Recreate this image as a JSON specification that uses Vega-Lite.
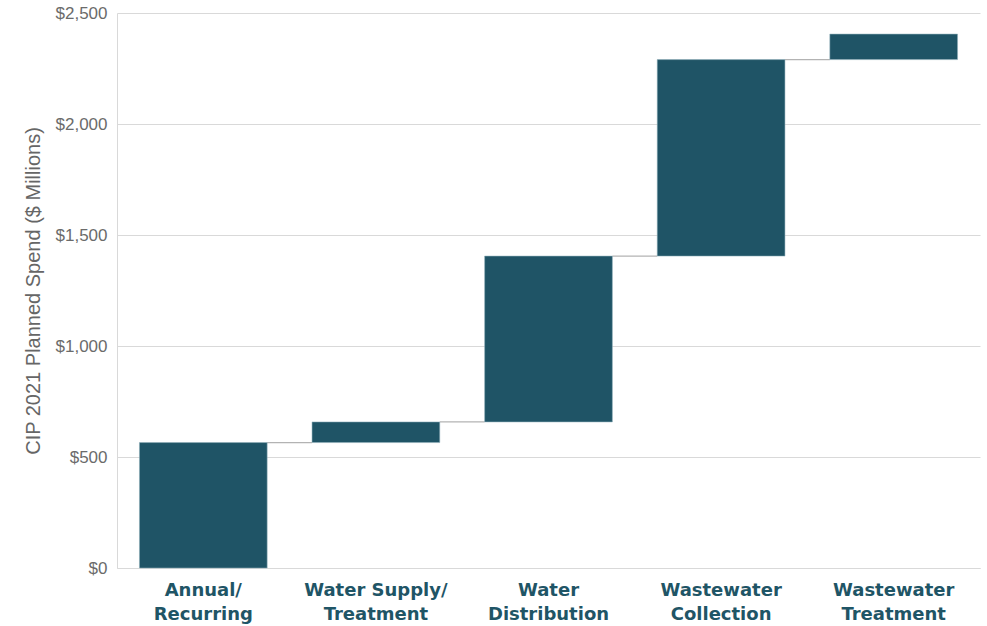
{
  "$schema": "https://vega.github.io/schema/vega-lite/v6.json",
  "width": 863,
  "height": 555,
  "autosize": {"type": "none"},
  "padding": {"left": 117, "top": 13, "right": 7, "bottom": 58},
  "background": "white",
  "config": {"view": {"stroke": null}, "font": "Liberation Sans"},
  "data": {
    "values": [
      {"category": "Annual/ Recurring", "start": 0, "end": 565, "next": "Water Supply/ Treatment"},
      {"category": "Water Supply/ Treatment", "start": 565, "end": 658, "next": "Water Distribution"},
      {"category": "Water Distribution", "start": 658, "end": 1405, "next": "Wastewater Collection"},
      {"category": "Wastewater Collection", "start": 1405, "end": 2290, "next": "Wastewater Treatment"},
      {"category": "Wastewater Treatment", "start": 2290, "end": 2405, "next": null}
    ]
  },
  "layer": [
    {
      "transform": [{"filter": "datum.next != null"}],
      "mark": {"type": "rule", "color": "#b3b3b3", "strokeWidth": 1.3},
      "encoding": {
        "x": {"field": "category", "type": "nominal", "bandPosition": 1,
              "scale": {"domain": ["Annual/ Recurring", "Water Supply/ Treatment", "Water Distribution", "Wastewater Collection", "Wastewater Treatment"], "paddingInner": 0.26, "paddingOuter": 0.13}},
        "x2": {"field": "next", "bandPosition": 0},
        "y": {"field": "end", "type": "quantitative"}
      }
    },
    {
      "mark": {"type": "bar", "color": "#1f5466", "stroke": "#8fb0bb", "strokeWidth": 0.8, "strokeOpacity": 0.7},
      "encoding": {
        "x": {
          "field": "category", "type": "nominal",
          "scale": {"domain": ["Annual/ Recurring", "Water Supply/ Treatment", "Water Distribution", "Wastewater Collection", "Wastewater Treatment"], "paddingInner": 0.26, "paddingOuter": 0.13},
          "axis": {
            "title": null, "labelAngle": 0, "ticks": false, "domain": true, "domainColor": "#d9d9d9",
            "labelFont": "DejaVu Sans", "labelFontWeight": "bold", "labelFontSize": 18, "labelColor": "#1f5566",
            "labelLineHeight": 24, "labelPadding": 13, "labelBaseline": "top", "labelAlign": "center",
            "labelExpr": "indexof(datum.label, '/') >= 0 ? [slice(datum.label, 0, indexof(datum.label, '/') + 1), slice(datum.label, indexof(datum.label, '/') + 2)] : split(datum.label, ' ')"
          }
        },
        "y": {
          "field": "start", "type": "quantitative",
          "scale": {"domain": [0, 2500], "nice": false},
          "axis": {
            "title": "CIP 2021 Planned Spend ($ Millions)", "titleFont": "Liberation Sans", "titleFontSize": 20,
            "titleFontWeight": "normal", "titleColor": "#666666", "titlePadding": 12,
            "labelFont": "Liberation Sans", "labelFontSize": 17, "labelColor": "#6b6b6b", "labelPadding": 10,
            "ticks": false, "domain": true, "domainColor": "#d9d9d9", "grid": true, "gridColor": "#d9d9d9",
            "values": [0, 500, 1000, 1500, 2000, 2500], "format": "$,.0f"
          }
        },
        "y2": {"field": "end"}
      }
    }
  ]
}
